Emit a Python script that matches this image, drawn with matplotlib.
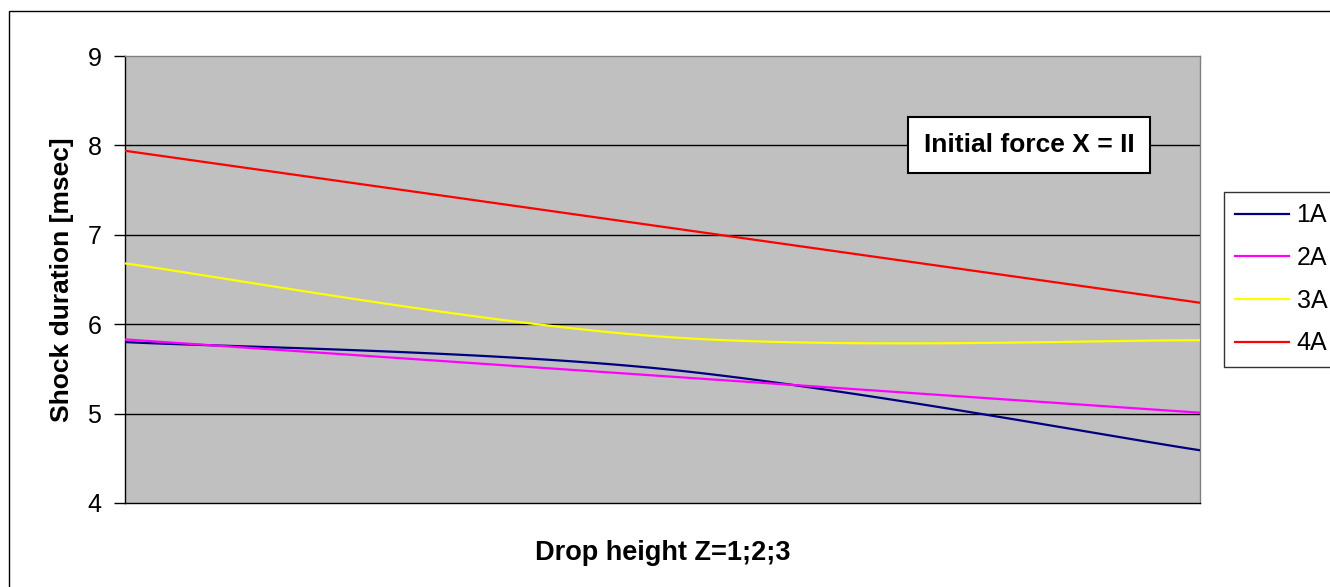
import matplotlib.pyplot as plt
import numpy as np
from matplotlib.patches import Rectangle

plt.rcParams.update({
    "font.family": ["Liberation Sans", "DejaVu Sans"],
    "font.size": 18,
})

# drop height Z = 1; 2; 3
drop_height = [1, 2, 3]
series_names = ["1A", "2A", "3A", "4A"]
shock_1a = [5.80, 5.50, 4.59]
shock_2a = [5.83, 5.42, 5.01]
shock_3a = [6.68, 5.86, 5.82]
shock_4a = [7.94, 7.09, 6.24]
series_colors = ["#000080", "#FF00FF", "#FFFF00", "#FF0000"]
y_ticks = [4, 5, 6, 7, 8, 9]


def smooth_curve(xs, ys, n=60):
    """Excel-style smoothed line: cubic Bezier through each point pair."""
    pts = np.column_stack([xs, ys]).astype(float)
    padded = np.vstack([pts[0], pts, pts[-1]])
    out = []
    t = np.linspace(0, 1, n)[:, None]
    for i in range(len(pts) - 1):
        p0, p1 = padded[i + 1], padded[i + 2]
        c1 = p0 + (padded[i + 2] - padded[i]) / 6
        c2 = p1 - (padded[i + 3] - padded[i + 1]) / 6
        seg = ((1 - t) ** 3) * p0 + 3 * ((1 - t) ** 2) * t * c1 \
            + 3 * (1 - t) * t ** 2 * c2 + t ** 3 * p1
        out.append(seg if i == 0 else seg[1:])
    out = np.vstack(out)
    return out[:, 0], out[:, 1]


fig = plt.figure(figsize=(13.3, 5.87), dpi=100)
fig.patch.set_facecolor("white")

# outer chart border
fig.patches.append(Rectangle((9 / 1330, -0.1), 1.2, 1 - 11 / 587 + 0.1,
                             transform=fig.transFigure, fill=False,
                             edgecolor="black", linewidth=1.0))

ax = fig.add_axes([125 / 1330, 1 - 503 / 587, (1200 - 125) / 1330, (503 - 56) / 587])
ax.set_facecolor("#C0C0C0")

for vals, name, color in zip([shock_1a, shock_2a, shock_3a, shock_4a], series_names, series_colors):
    sx, sy = smooth_curve(drop_height, vals)
    ax.plot(sx, sy, color=color, linewidth=1.6, label=name, zorder=3)

ax.set_xlim(drop_height[0], drop_height[-1])
ax.set_ylim(y_ticks[0], y_ticks[-1])
ax.set_yticks(y_ticks)
ax.set_xticks([])
for y in y_ticks[1:-1]:
    ax.axhline(y, color="black", linewidth=1.0, zorder=1)

ax.tick_params(axis="y", direction="out", length=8, width=1, pad=9, labelsize=18)
ax.spines["left"].set_color("black")
ax.spines["bottom"].set_color("black")
ax.spines["top"].set_color("#808080")
ax.spines["right"].set_color("#808080")
for s in ax.spines.values():
    s.set_linewidth(1.0)

ax.set_ylabel("Shock duration [msec]", fontsize=19, fontweight="bold", labelpad=10)
ax.set_xlabel("Drop height Z=1;2;3", fontsize=19.5, fontweight="bold", labelpad=27)

ax.text(0.841, 0.801, "Initial force X = II", transform=ax.transAxes,
        ha="center", va="center", fontsize=19, fontweight="bold", zorder=5,
        bbox=dict(boxstyle="square,pad=0.6", facecolor="white", edgecolor="black", linewidth=1.5))

leg = fig.legend(loc="upper left", bbox_to_anchor=(1224 / 1330, 1 - 192 / 587),
                 frameon=True, fancybox=False, edgecolor="black", fontsize=18,
                 handlelength=2.15, handletextpad=0.3, labelspacing=0.75,
                 borderpad=0.45, borderaxespad=0)
leg.get_frame().set_linewidth(1.0)

plt.savefig("out.png", dpi=100)
